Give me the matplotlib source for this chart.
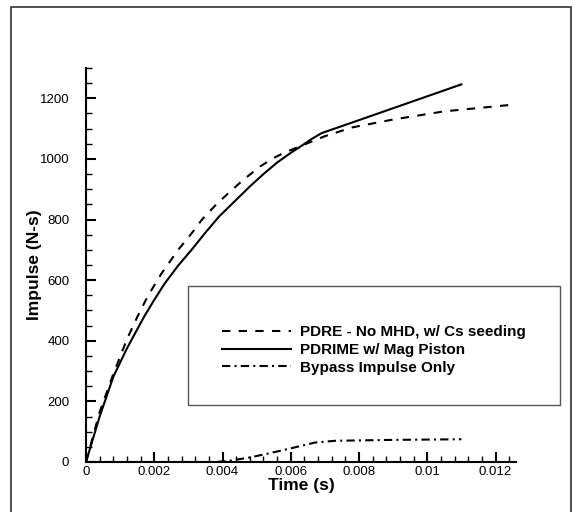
import matplotlib
matplotlib.use("Agg")
import matplotlib.pyplot as plt
from matplotlib.patches import Rectangle
from matplotlib.ticker import MultipleLocator

plt.rcParams['font.family'] = ['Liberation Sans', 'DejaVu Sans']

# PDRE - No MHD, w/ Cs seeding (dashed)
t_pdre = [0, 0.0004, 0.0008, 0.0012, 0.0015, 0.0018, 0.0022, 0.0027, 0.0031, 0.0034,
          0.0038, 0.0042, 0.0046, 0.0051, 0.0055, 0.0058, 0.0063, 0.0070, 0.0078,
          0.0090, 0.0105, 0.0126]
I_pdre = [0, 165, 290, 405, 478, 545, 620, 700, 755, 800,
          848, 890, 930, 975, 1003, 1020, 1043, 1075, 1104,
          1130, 1157, 1180]

# PDRIME w/ Mag Piston (solid)
t_pdrime = [0, 0.0004, 0.0008, 0.0012, 0.0017, 0.0020, 0.0023, 0.0027, 0.0031, 0.0035,
            0.0039, 0.0044, 0.0048, 0.0052, 0.0056, 0.0060, 0.0063, 0.0066, 0.0069,
            0.0080, 0.0095, 0.0110]
I_pdrime = [0, 150, 281, 375, 479, 535, 588, 648, 701, 757,
            810, 865, 909, 950, 988, 1020, 1042, 1065, 1085,
            1128, 1187, 1246]

# Bypass Impulse Only (dash-dot)
t_bypass = [0, 0.0038, 0.0042, 0.0048, 0.0053, 0.0060, 0.0067, 0.0073, 0.0090, 0.0110]
I_bypass = [0, 0, 4, 15, 27, 45, 64, 70, 73, 75]

labels = ["PDRE - No MHD, w/ Cs seeding", "PDRIME w/ Mag Piston", "Bypass Impulse Only"]

W, H = 574, 512
fig = plt.figure(figsize=(W / 100, H / 100), dpi=100)
fig.patch.set_facecolor('white')

# outer frame
fig.patches.append(Rectangle((11 / W, -0.01), (571 - 11) / W, 1 - 7 / H + 0.01,
                             transform=fig.transFigure, fill=False,
                             edgecolor='#333333', linewidth=1.2, zorder=0))

ax = fig.add_axes([86 / W, 1 - 462 / H, (516 - 86) / W, (462 - 68) / H])
ax.set_facecolor('none')
l1, = ax.plot(t_pdre, I_pdre, color='black', lw=1.5, linestyle=(0, (4, 4)))
l2, = ax.plot(t_pdrime, I_pdrime, color='black', lw=1.5, linestyle='-')
l3, = ax.plot(t_bypass, I_bypass, color='black', lw=1.5,
              linestyle=(0, (4, 2, 1, 2)))

ax.set_xlim(0, 0.0126)
ax.set_ylim(0, 1300)
for s in ['top', 'right']:
    ax.spines[s].set_visible(False)
for s in ['left', 'bottom']:
    ax.spines[s].set_linewidth(1.5)

ax.yaxis.set_major_locator(MultipleLocator(200))
ax.yaxis.set_minor_locator(MultipleLocator(50))
ax.xaxis.set_minor_locator(MultipleLocator(0.0004))
ax.set_xticks([0, 0.002, 0.004, 0.006, 0.008, 0.01, 0.012])
ax.set_xticklabels(['0', '0.002', '0.004', '0.006', '0.008', '0.01', '0.012'])
ax.tick_params(which='major', direction='in', length=7, width=1.5, labelsize=9.5)
ax.tick_params(which='minor', direction='in', length=4, width=1)
ax.tick_params(axis='y', which='major', pad=12)
ax.tick_params(axis='x', which='major', pad=3)

ax.set_xlabel('Time (s)', fontsize=12.5, fontweight='bold', labelpad=0)
ax.set_ylabel('Impulse (N-s)', fontsize=12.5, fontweight='bold')
ax.yaxis.set_label_coords(42 / W, 1 - 265 / H, transform=fig.transFigure)

# legend box
fig.patches.append(Rectangle((188 / W, 1 - 405 / H), (560 - 188) / W, (405 - 286) / H,
                             transform=fig.transFigure, facecolor='white',
                             edgecolor='#555555', linewidth=1.0, zorder=5))
leg = fig.legend([l1, l2, l3], labels, loc='center left',
                 bbox_to_anchor=(208 / W, 1 - 350 / H), frameon=False,
                 prop={'weight': 'bold', 'size': 11}, handlelength=4.5,
                 handletextpad=0.6, labelspacing=0.25)
leg.set_zorder(6)

fig.savefig('out.png', dpi=100, facecolor='white')
